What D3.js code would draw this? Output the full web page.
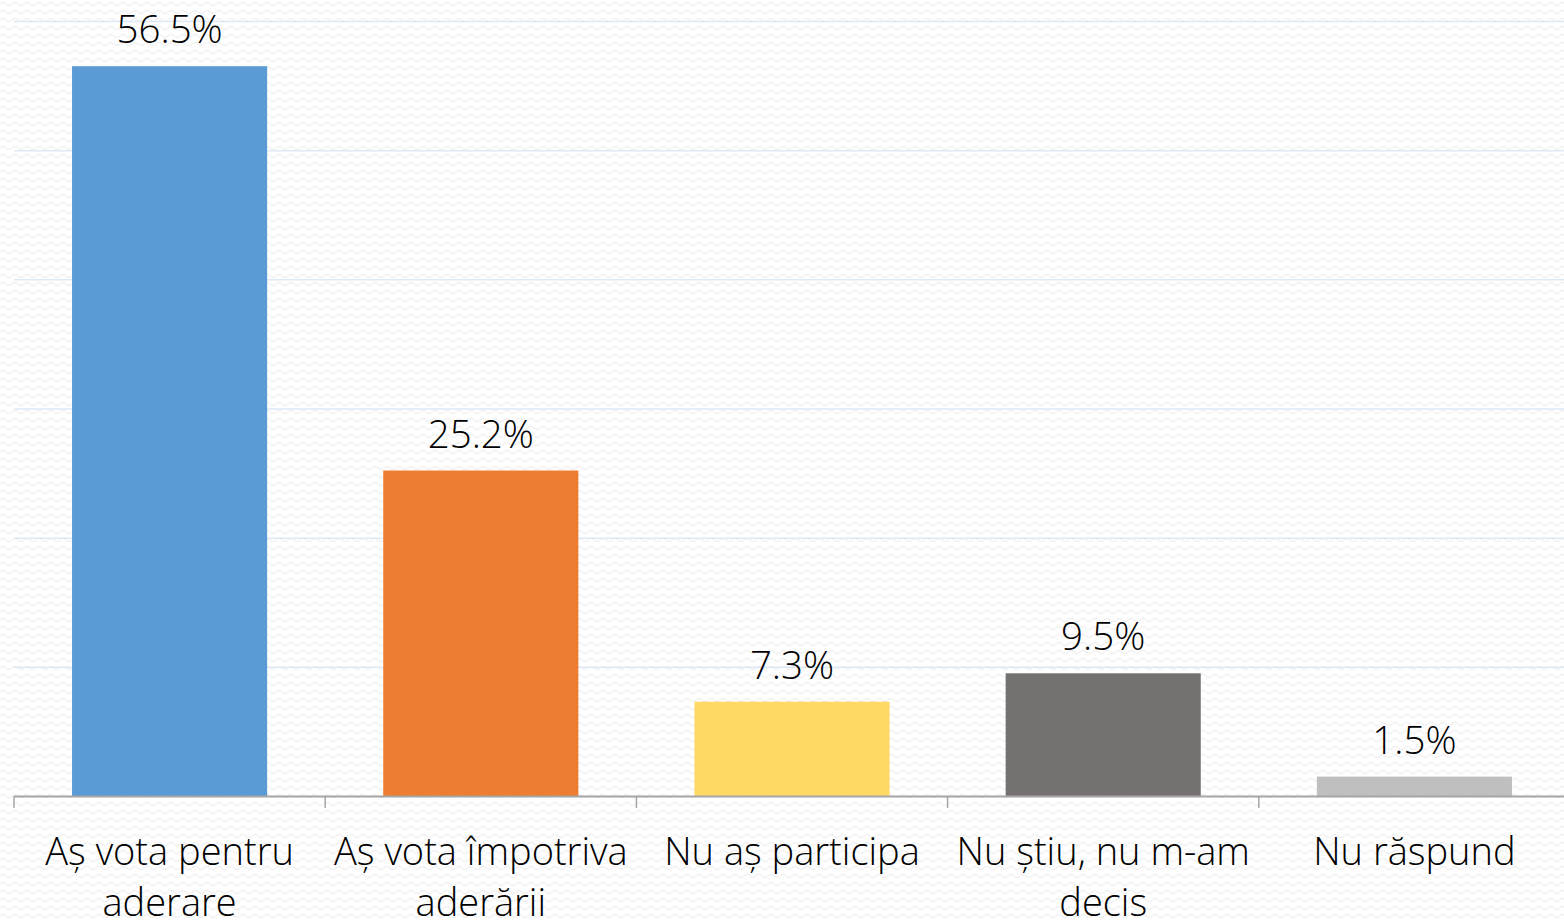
<!DOCTYPE html>
<html><head><meta charset="utf-8">
<script src="https://cdn.jsdelivr.net/npm/d3@7"></script>
<style>html,body{margin:0;padding:0;background:#fff;}svg{display:block;}</style>
</head><body>
<svg id="chart" width="1564" height="920"></svg>
<script>
const categories = [["Aș vota pentru","aderare"],["Aș vota împotriva","aderării"],["Nu aș participa"],["Nu știu, nu m-am","decis"],["Nu răspund"]];
const values = [56.5, 25.2, 7.3, 9.5, 1.5];
const valueLabels = ["56.5%","25.2%","7.3%","9.5%","1.5%"];
const colors = ["#5B9BD5","#ED7D31","#FFD966","#767171","#BFBFBF"];
const gridTicks = [10,20,30,40,50,60];

const svg = d3.select("#chart");
const W = 1564, H = 920;
const defs = svg.append("defs");
const pat = defs.append("pattern").attr("id","waves").attr("patternUnits","userSpaceOnUse")
  .attr("width",12).attr("height",8);
pat.append("path").attr("d","M0,4 Q3,1 6,4 T12,4").attr("fill","none").attr("stroke","#f1f1f1").attr("stroke-width",1.3);
svg.append("rect").attr("width",W).attr("height",H).attr("fill","#fff");
svg.append("rect").attr("width",W).attr("height",H).attr("fill","url(#waves)");

const x = d3.scaleBand().domain(d3.range(values.length)).range([14,1570]).paddingInner(0.373).paddingOuter(0.1865);
const y = d3.scaleLinear().domain([0,60]).range([796,21]);

svg.append("g").selectAll("line").data(gridTicks).join("line")
  .attr("x1",14).attr("x2",W).attr("y1",d=>y(d)+0.5).attr("y2",d=>y(d)+0.5)
  .attr("stroke","#dde9f6").attr("stroke-width",1.5);

svg.append("g").selectAll("rect").data(values).join("rect")
  .attr("x",(d,i)=>x(i)).attr("width",x.bandwidth())
  .attr("y",d=>y(d)).attr("height",d=>y(0)-y(d))
  .attr("fill",(d,i)=>colors[i]);

// axis
const step = x.step();
const ax = svg.append("g");
ax.append("line").attr("x1",14).attr("x2",W).attr("y1",796.5).attr("y2",796.5).attr("stroke","#a6a6a6").attr("stroke-width",2);
ax.selectAll("line.tk").data(d3.range(values.length)).join("line").attr("class","tk")
  .attr("x1",i=>14+i*step).attr("x2",i=>14+i*step)
  .attr("y1",796).attr("y2",808).attr("stroke","#a6a6a6").attr("stroke-width",1.5);

const font = "'Open Sans', sans-serif";
svg.append("g").selectAll("text").data(values).join("text")
  .attr("x",(d,i)=>x(i)+x.bandwidth()/2).attr("y",d=>y(d)-23)
  .attr("text-anchor","middle").attr("font-family",font).attr("font-weight",300)
  .attr("font-size",38.5).attr("fill","#000").text((d,i)=>valueLabels[i]);

const lab = svg.append("g").selectAll("text").data(categories).join("text")
  .attr("text-anchor","middle").attr("font-family",font).attr("font-weight",300)
  .attr("font-size",38).attr("fill","#000");
lab.each(function(lines,i){
  d3.select(this).selectAll("tspan").data(lines).join("tspan")
    .attr("x",x(i)+x.bandwidth()/2).attr("y",(d,j)=>865+j*51).text(d=>d);
});
</script>
</body></html>
